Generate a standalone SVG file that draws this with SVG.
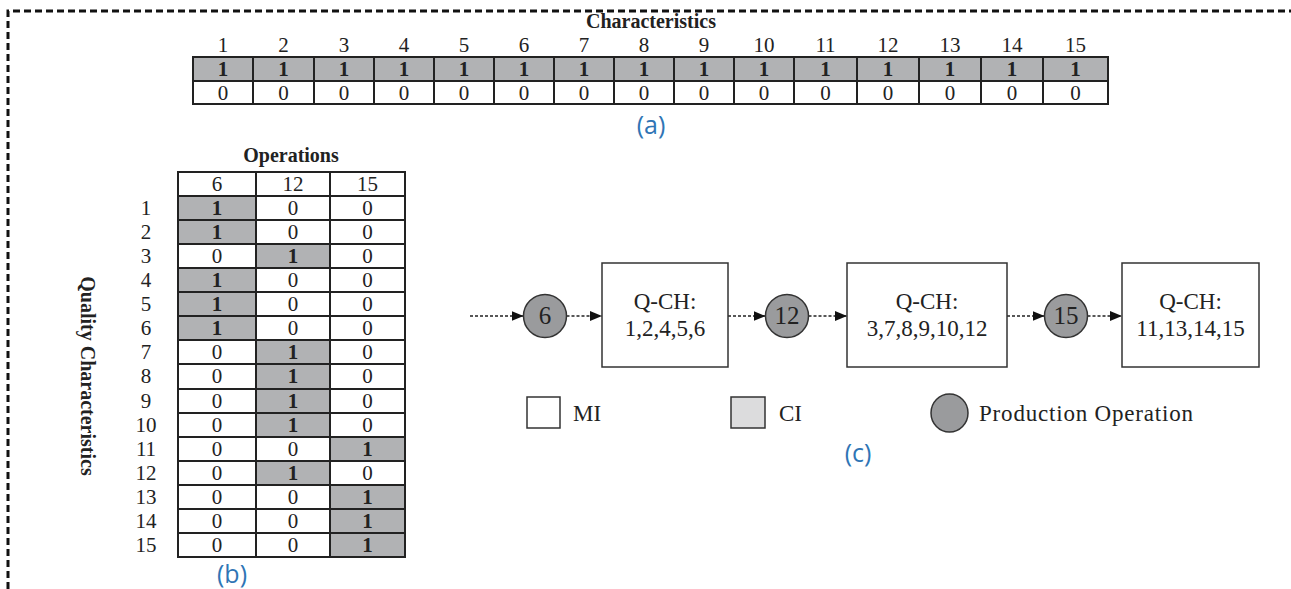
<svg xmlns="http://www.w3.org/2000/svg" width="1291" height="589" viewBox="0 0 1291 589">
<defs>
<style>
.t{font-family:"Liberation Serif","Times New Roman",serif;fill:#222;text-anchor:middle}
.n{font-size:21px}
.b{font-weight:bold}
.h{font-size:20px;font-weight:bold}
.cap{font-family:"Open Sans","Noto Sans",sans-serif;font-size:25px;fill:#2f75b5;text-anchor:middle}
.grid{stroke:#222;stroke-width:2;fill:none}
.g{fill:#b1b2b4}
.box{fill:#fff;stroke:#333;stroke-width:1.5}
.op{fill:#9a9b9d;stroke:#333;stroke-width:1.5}
.bt{font-size:23px}
.ar{stroke:#222;stroke-width:1.6;stroke-dasharray:3 2;fill:none;marker-end:url(#ah)}
</style>
<marker id="ah" markerUnits="userSpaceOnUse" markerWidth="12" markerHeight="10" refX="12" refY="5" orient="auto">
<path d="M0,0 L12,5 L0,10 Z" fill="#111"/>
</marker>
</defs>
<rect width="1291" height="589" fill="#fff"/>
<path d="M8,600 V11 H1300" fill="none" stroke="#111" stroke-width="3" stroke-dasharray="7 4"/>

<g id="table-a">
<text class="t h" x="651" y="28">Characteristics</text>
<rect class="g" x="193" y="57" width="915" height="24"/>
<g class="t n">
<text x="223" y="52">1</text><text x="283.5" y="52">2</text><text x="344" y="52">3</text><text x="404" y="52">4</text><text x="464" y="52">5</text><text x="524" y="52">6</text><text x="584" y="52">7</text><text x="644" y="52">8</text><text x="704" y="52">9</text><text x="764" y="52">10</text><text x="825.5" y="52">11</text><text x="888" y="52">12</text><text x="950" y="52">13</text><text x="1012" y="52">14</text><text x="1075.5" y="52">15</text>
</g>
<g class="t n b">
<text x="223" y="76">1</text><text x="283.5" y="76">1</text><text x="344" y="76">1</text><text x="404" y="76">1</text><text x="464" y="76">1</text><text x="524" y="76">1</text><text x="584" y="76">1</text><text x="644" y="76">1</text><text x="704" y="76">1</text><text x="764" y="76">1</text><text x="825.5" y="76">1</text><text x="888" y="76">1</text><text x="950" y="76">1</text><text x="1012" y="76">1</text><text x="1075.5" y="76">1</text>
</g>
<g class="t n">
<text x="223" y="100">0</text><text x="283.5" y="100">0</text><text x="344" y="100">0</text><text x="404" y="100">0</text><text x="464" y="100">0</text><text x="524" y="100">0</text><text x="584" y="100">0</text><text x="644" y="100">0</text><text x="704" y="100">0</text><text x="764" y="100">0</text><text x="825.5" y="100">0</text><text x="888" y="100">0</text><text x="950" y="100">0</text><text x="1012" y="100">0</text><text x="1075.5" y="100">0</text>
</g>
<path class="grid" d="M193,57 H1108 V104 H193 Z M193,81 H1108 M253,57 V104 M314,57 V104 M374,57 V104 M434,57 V104 M494,57 V104 M554,57 V104 M614,57 V104 M674,57 V104 M734,57 V104 M794,57 V104 M857,57 V104 M919,57 V104 M981,57 V104 M1043,57 V104"/>
<text class="cap" x="651" y="134">(a)</text>
</g>

<g id="table-b">
<text class="t h" x="291" y="162">Operations</text>
<text class="t h" transform="translate(81,376) rotate(90)">Quality Characteristics</text>
<g class="g">
<rect x="178" y="196" width="78" height="24"/><rect x="178" y="220" width="78" height="24"/>
<rect x="256" y="244" width="74" height="24"/>
<rect x="178" y="268" width="78" height="24"/><rect x="178" y="292" width="78" height="24"/><rect x="178" y="316" width="78" height="24"/>
<rect x="256" y="340" width="74" height="24"/><rect x="256" y="364" width="74" height="25"/><rect x="256" y="389" width="74" height="24"/><rect x="256" y="413" width="74" height="24"/>
<rect x="330" y="437" width="75" height="24"/>
<rect x="256" y="461" width="74" height="24"/>
<rect x="330" y="485" width="75" height="24"/><rect x="330" y="509" width="75" height="24"/><rect x="330" y="533" width="75" height="24"/>
</g>
<g class="t n">
<text x="217" y="190.5">6</text><text x="293" y="190.5">12</text><text x="367.5" y="190.5">15</text>
<text x="146" y="214.5">1</text><text x="146" y="238.5">2</text><text x="146" y="262.5">3</text><text x="146" y="286.5">4</text><text x="146" y="310.5">5</text><text x="146" y="334.5">6</text><text x="146" y="358.5">7</text><text x="146" y="382.5">8</text><text x="146" y="407.5">9</text><text x="146" y="431.5">10</text><text x="146" y="455.5">11</text><text x="146" y="479.5">12</text><text x="146" y="503.5">13</text><text x="146" y="527.5">14</text><text x="146" y="551.5">15</text>
</g>
<g class="t n">
<text class="b" x="217" y="214.5">1</text><text x="293" y="214.5">0</text><text x="367.5" y="214.5">0</text>
<text class="b" x="217" y="238.5">1</text><text x="293" y="238.5">0</text><text x="367.5" y="238.5">0</text>
<text x="217" y="262.5">0</text><text class="b" x="293" y="262.5">1</text><text x="367.5" y="262.5">0</text>
<text class="b" x="217" y="286.5">1</text><text x="293" y="286.5">0</text><text x="367.5" y="286.5">0</text>
<text class="b" x="217" y="310.5">1</text><text x="293" y="310.5">0</text><text x="367.5" y="310.5">0</text>
<text class="b" x="217" y="334.5">1</text><text x="293" y="334.5">0</text><text x="367.5" y="334.5">0</text>
<text x="217" y="358.5">0</text><text class="b" x="293" y="358.5">1</text><text x="367.5" y="358.5">0</text>
<text x="217" y="382.5">0</text><text class="b" x="293" y="382.5">1</text><text x="367.5" y="382.5">0</text>
<text x="217" y="407.5">0</text><text class="b" x="293" y="407.5">1</text><text x="367.5" y="407.5">0</text>
<text x="217" y="431.5">0</text><text class="b" x="293" y="431.5">1</text><text x="367.5" y="431.5">0</text>
<text x="217" y="455.5">0</text><text x="293" y="455.5">0</text><text class="b" x="367.5" y="455.5">1</text>
<text x="217" y="479.5">0</text><text class="b" x="293" y="479.5">1</text><text x="367.5" y="479.5">0</text>
<text x="217" y="503.5">0</text><text x="293" y="503.5">0</text><text class="b" x="367.5" y="503.5">1</text>
<text x="217" y="527.5">0</text><text x="293" y="527.5">0</text><text class="b" x="367.5" y="527.5">1</text>
<text x="217" y="551.5">0</text><text x="293" y="551.5">0</text><text class="b" x="367.5" y="551.5">1</text>
</g>
<path class="grid" d="M178,172 H405 V557 H178 Z M256,172 V557 M330,172 V557 M178,196 H405 M178,220 H405 M178,244 H405 M178,268 H405 M178,292 H405 M178,316 H405 M178,340 H405 M178,364 H405 M178,389 H405 M178,413 H405 M178,437 H405 M178,461 H405 M178,485 H405 M178,509 H405 M178,533 H405"/>
<text class="cap" x="232" y="583">(b)</text>
</g>

<g id="connectors">
<line class="ar" x1="470" y1="316" x2="523.5" y2="316"/>
<line class="ar" x1="566.5" y1="316" x2="602" y2="316"/>
<line class="ar" x1="728" y1="316" x2="765.5" y2="316"/>
<line class="ar" x1="808.5" y1="316" x2="847" y2="316"/>
<line class="ar" x1="1007" y1="316" x2="1044.5" y2="316"/>
<line class="ar" x1="1087.5" y1="316" x2="1122" y2="316"/>
</g>

<g id="op6"><circle class="op" cx="545" cy="316" r="21.5"/><text class="t" style="font-size:25px" x="545" y="324">6</text></g>
<g id="qch1"><rect class="box" x="602" y="263" width="126" height="104"/><text class="t bt" x="665" y="309">Q-CH:</text><text class="t bt" x="665" y="336">1,2,4,5,6</text></g>
<g id="op12"><circle class="op" cx="787" cy="316" r="21.5"/><text class="t" style="font-size:25px" x="787" y="324">12</text></g>
<g id="qch2"><rect class="box" x="847" y="263" width="160" height="104"/><text class="t bt" x="927" y="309">Q-CH:</text><text class="t bt" x="927" y="336">3,7,8,9,10,12</text></g>
<g id="op15"><circle class="op" cx="1066" cy="316" r="21.5"/><text class="t" style="font-size:25px" x="1066" y="324">15</text></g>
<g id="qch3"><rect class="box" x="1122" y="263" width="137" height="104"/><text class="t bt" x="1190.5" y="309">Q-CH:</text><text class="t bt" x="1190.5" y="336">11,13,14,15</text></g>

<g id="legend">
<rect class="box" x="527" y="397" width="33" height="31"/>
<text class="t" style="font-size:23px;text-anchor:start" x="573" y="421">MI</text>
<rect x="731" y="397" width="34" height="31" fill="#dcdcdd" stroke="#333" stroke-width="1.5"/>
<text class="t" style="font-size:23px;text-anchor:start" x="779" y="421">CI</text>
<ellipse class="op" cx="949.5" cy="413" rx="18.5" ry="19"/>
<text class="t" style="font-size:23px;text-anchor:start" x="979" y="421" textLength="214" lengthAdjust="spacing">Production Operation</text>
<text class="cap" x="858" y="462">(c)</text>
</g>
</svg>
